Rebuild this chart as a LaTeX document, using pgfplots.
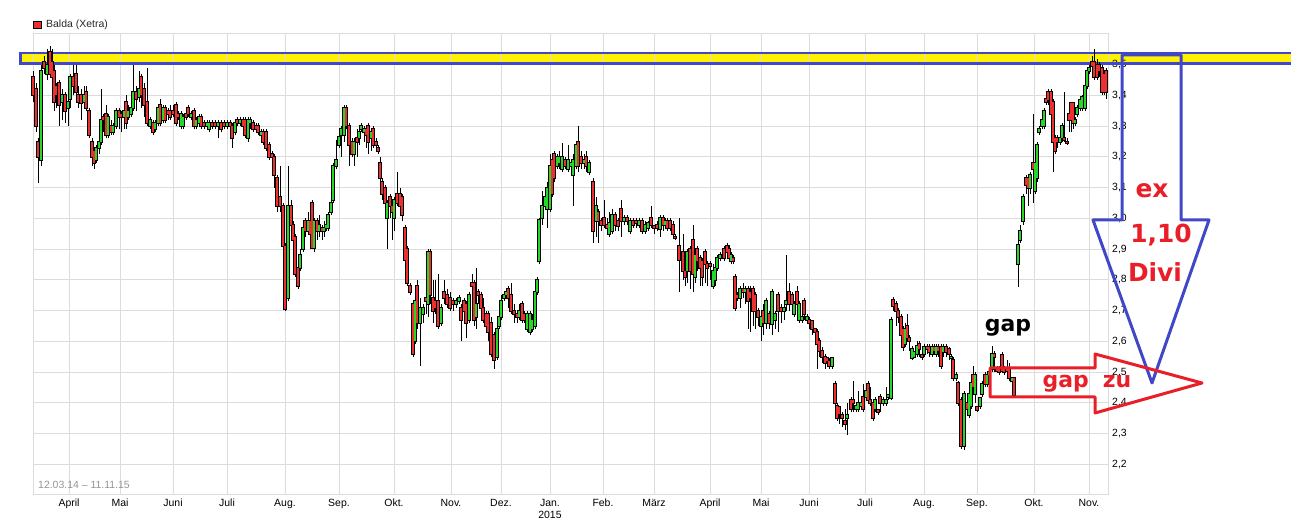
\documentclass[border=0pt]{standalone}
\usepackage{pgfplots}
\pgfplotsset{compat=1.18}
\usepackage{pgfplotstable}
\usepackage{fontspec}
\setmainfont{Liberation Sans}
\newfontfamily\comicfont{DejaVu Sans}
\definecolor{candlered}{RGB}{236,48,48}
\definecolor{candlegreen}{RGB}{40,214,40}
\definecolor{gridgray}{RGB}{220,220,220}
\definecolor{bandyellow}{RGB}{255,242,0}
\definecolor{bandblue}{RGB}{64,72,200}
\definecolor{notered}{RGB}{234,30,40}

\pgfplotstableread{
x o h l c
33 3.46 3.48 3.38 3.40
36 3.42 3.44 3.28 3.30
38 3.25 3.26 3.115 3.20
41 3.19 3.50 3.17 3.48
44 3.51 3.53 3.47 3.49
47 3.47 3.55 3.45 3.50
50 3.54 3.56 3.46 3.47
52 3.51 3.55 3.44 3.46
54 3.48 3.50 3.35 3.38
56 3.43 3.44 3.36 3.40
59 3.44 3.45 3.30 3.37
62 3.38 3.42 3.32 3.40
65 3.40 3.41 3.31 3.35
68 3.36 3.40 3.30 3.38
70 3.39 3.47 3.36 3.46
73 3.46 3.50 3.40 3.43
76 3.47 3.50 3.38 3.41
78 3.40 3.43 3.36 3.38
81 3.40 3.42 3.32 3.375
84 3.38 3.43 3.37 3.40
86 3.41 3.43 3.35 3.36
89 3.35 3.36 3.26 3.27
92 3.25 3.26 3.17 3.20
94 3.22 3.23 3.16 3.18
96 3.19 3.24 3.18 3.23
99 3.23 3.27 3.21 3.25
101 3.25 3.42 3.24 3.32
103 3.33 3.34 3.28 3.32
106 3.34 3.37 3.26 3.27
108 3.27 3.34 3.26 3.33
111 3.30 3.32 3.27 3.28
113 3.28 3.31 3.27 3.30
116 3.30 3.36 3.29 3.35
119 3.35 3.36 3.29 3.33
121 3.34 3.35 3.28 3.33
124 3.33 3.36 3.29 3.35
126 3.38 3.40 3.29 3.31
128 3.33 3.37 3.32 3.35
131 3.34 3.38 3.33 3.36
133 3.36 3.50 3.35 3.41
136 3.41 3.43 3.35 3.39
139 3.395 3.48 3.38 3.42
141 3.46 3.47 3.36 3.40
144 3.42 3.44 3.33 3.37
147 3.38 3.49 3.30 3.31
150 3.30 3.33 3.29 3.32
153 3.31 3.32 3.27 3.28
155 3.29 3.32 3.28 3.31
158 3.31 3.37 3.30 3.36
160 3.37 3.39 3.30 3.31
163 3.32 3.37 3.31 3.36
165 3.36 3.37 3.31 3.32
168 3.35 3.36 3.32 3.34
170 3.35 3.37 3.32 3.33
173 3.35 3.37 3.33 3.34
176 3.37 3.38 3.30 3.31
178 3.34 3.35 3.32 3.33
181 3.30 3.35 3.29 3.34
183 3.30 3.34 3.29 3.33
186 3.34 3.35 3.32 3.33
188 3.36 3.37 3.33 3.34
191 3.33 3.35 3.32 3.34
194 3.35 3.36 3.29 3.30
196 3.30 3.33 3.29 3.32
199 3.31 3.34 3.30 3.33
201 3.33 3.34 3.29 3.30
204 3.31 3.32 3.29 3.30
207 3.30 3.32 3.29 3.31
209 3.29 3.32 3.28 3.31
212 3.31 3.32 3.29 3.30
215 3.31 3.32 3.29 3.30
218 3.30 3.32 3.26 3.31
221 3.31 3.32 3.28 3.29
224 3.31 3.32 3.29 3.30
227 3.30 3.32 3.29 3.31
230 3.31 3.32 3.29 3.30
232 3.30 3.31 3.23 3.26
235 3.28 3.32 3.27 3.31
237 3.32 3.33 3.30 3.31
240 3.31 3.33 3.30 3.32
243 3.32 3.33 3.29 3.30
245 3.32 3.33 3.26 3.27
248 3.26 3.33 3.25 3.32
250 3.31 3.33 3.29 3.32
253 3.31 3.32 3.28 3.29
256 3.30 3.31 3.28 3.29
258 3.30 3.31 3.27 3.28
261 3.27 3.29 3.26 3.28
263 3.28 3.29 3.24 3.25
266 3.28 3.29 3.22 3.23
269 3.24 3.25 3.19 3.20
272 3.21 3.22 3.19 3.20
274 3.20 3.21 3.10 3.14
277 3.13 3.14 3.02 3.04
280 3.07 3.17 3.02 3.04
283 3.04 3.05 2.90 2.91
285 2.91 2.92 2.70 2.705
288 2.74 3.17 2.73 3.04
291 3.04 3.06 2.96 2.98
293 2.98 2.99 2.90 2.93
295 2.94 2.95 2.81 2.82
298 2.84 2.85 2.77 2.78
300 2.84 2.90 2.83 2.88
303 2.90 2.99 2.89 2.97
305 2.99 3.00 2.94 2.96
308 2.96 3.02 2.95 2.99
310 2.99 3.04 2.92 2.95
312 3.05 3.06 2.90 2.905
314 2.905 3.00 2.89 2.99
317 2.99 3.00 2.93 2.96
319 2.96 3.01 2.94 2.98
322 2.97 2.98 2.93 2.96
324 2.96 2.99 2.94 2.97
326 2.97 2.99 2.96 2.98
328 2.97 3.02 2.96 3.01
331 3.02 3.06 3.01 3.05
333 3.06 3.18 3.05 3.17
336 3.17 3.255 3.16 3.19
339 3.24 3.27 3.23 3.265
341 3.27 3.30 3.20 3.29
344 3.27 3.37 3.25 3.36
346 3.36 3.37 3.29 3.30
349 3.30 3.31 3.17 3.24
352 3.25 3.26 3.20 3.21
354 3.21 3.26 3.17 3.25
357 3.26 3.29 3.20 3.25
359 3.26 3.29 3.24 3.28
361 3.29 3.31 3.28 3.30
364 3.28 3.30 3.25 3.29
366 3.29 3.30 3.23 3.27
368 3.30 3.31 3.21 3.25
371 3.26 3.29 3.22 3.28
373 3.29 3.30 3.23 3.24
376 3.25 3.26 3.22 3.24
378 3.23 3.24 3.21 3.22
380 3.18 3.20 3.12 3.13
382 3.12 3.13 3.06 3.08
385 3.10 3.11 3.02 3.05
387 3.00 3.06 2.90 3.05
390 3.07 3.08 3.00 3.04
392 3.04 3.05 2.93 3.02
394 3.00 3.07 2.96 3.06
397 3.08 3.15 3.04 3.05
400 3.08 3.10 3.02 3.04
402 3.07 3.08 2.99 3.01
405 2.97 2.98 2.86 2.865
407 2.90 2.91 2.78 2.79
410 2.78 2.79 2.75 2.76
413 2.72 2.73 2.55 2.56
415 2.60 2.78 2.59 2.73
417 2.78 2.80 2.64 2.66
420 2.66 2.74 2.52 2.71
423 2.69 2.72 2.66 2.71
426 2.74 2.78 2.69 2.73
428 2.72 2.90 2.68 2.89
430 2.89 2.90 2.72 2.75
433 2.74 2.80 2.66 2.70
435 2.73 2.80 2.69 2.71
438 2.73 2.82 2.64 2.65
441 2.66 2.72 2.65 2.71
444 2.76 2.80 2.72 2.74
447 2.75 2.77 2.71 2.72
450 2.74 2.76 2.70 2.71
453 2.73 2.74 2.70 2.72
456 2.72 2.74 2.71 2.73
459 2.73 2.75 2.72 2.74
461 2.71 2.72 2.60 2.67
464 2.73 2.74 2.66 2.70
466 2.72 2.73 2.61 2.66
469 2.67 2.76 2.66 2.75
472 2.79 2.82 2.75 2.78
474 2.79 2.80 2.65 2.67
476 2.68 2.84 2.64 2.72
478 2.76 2.77 2.72 2.75
481 2.75 2.76 2.69 2.71
483 2.71 2.74 2.66 2.67
486 2.69 2.70 2.64 2.65
488 2.69 2.70 2.60 2.63
491 2.66 2.68 2.55 2.56
494 2.62 2.63 2.51 2.54
497 2.55 2.65 2.54 2.64
499 2.65 2.69 2.64 2.68
501 2.68 2.75 2.67 2.73
504 2.74 2.76 2.73 2.75
506 2.75 2.77 2.74 2.76
508 2.77 2.78 2.71 2.74
511 2.75 2.79 2.69 2.70
514 2.70 2.72 2.66 2.69
517 2.69 2.70 2.66 2.68
519 2.68 2.72 2.67 2.70
522 2.72 2.73 2.66 2.67
524 2.69 2.70 2.66 2.67
527 2.64 2.70 2.63 2.69
530 2.63 2.70 2.62 2.69
532 2.64 2.69 2.63 2.67
535 2.65 2.77 2.64 2.76
537 2.76 2.81 2.75 2.80
539 2.86 3.00 2.85 2.995
542 3.00 3.09 2.98 3.04
545 3.04 3.09 3.03 3.07
547 3.03 3.12 2.97 3.10
550 3.03 3.21 3.02 3.17
552 3.19 3.21 3.07 3.08
554 3.21 3.22 3.12 3.13
557 3.17 3.21 3.16 3.20
559 3.18 3.22 3.16 3.20
562 3.16 3.245 3.15 3.20
565 3.19 3.20 3.16 3.17
568 3.16 3.24 3.15 3.19
571 3.17 3.19 3.16 3.18
573 3.14 3.21 3.04 3.19
576 3.17 3.25 3.16 3.24
578 3.25 3.30 3.15 3.17
581 3.20 3.22 3.16 3.18
584 3.18 3.21 3.16 3.19
586 3.20 3.22 3.15 3.17
589 3.15 3.19 3.14 3.18
593 3.12 3.13 2.92 2.96
596 2.99 3.07 2.94 3.04
598 3.02 3.03 2.92 2.99
601 2.99 3.00 2.96 2.98
604 3.00 3.06 2.97 2.98
607 2.98 3.00 2.95 2.97
609 2.95 3.02 2.94 2.985
612 2.96 3.03 2.95 3.01
615 3.01 3.02 2.96 2.98
618 2.99 3.00 2.96 2.975
621 3.03 3.06 2.94 2.99
624 2.99 3.01 2.98 3.00
627 3.00 3.01 2.98 2.99
630 2.96 3.00 2.95 2.99
633 2.99 3.00 2.97 2.98
636 2.99 3.00 2.97 2.985
639 2.98 3.00 2.97 2.99
642 2.99 3.00 2.95 2.96
645 2.96 2.99 2.95 2.98
648 2.97 2.99 2.96 2.985
651 3.00 3.04 2.97 2.98
654 2.975 2.98 2.95 2.97
657 2.98 2.99 2.96 2.97
660 2.965 3.01 2.94 3.00
663 3.00 3.01 2.96 2.98
665 2.98 3.00 2.97 2.99
667 2.99 3.00 2.96 2.97
670 2.99 3.00 2.96 2.97
673 2.98 2.99 2.94 2.95
675 2.94 2.95 2.93 2.935
679 2.91 3.00 2.76 2.865
683 2.89 2.95 2.80 2.83
685 2.83 2.84 2.78 2.81
687 2.83 2.90 2.79 2.89
690 2.90 2.91 2.77 2.83
693 2.93 2.98 2.76 2.82
695 2.81 2.89 2.79 2.88
697 2.90 2.91 2.83 2.86
700 2.87 2.88 2.78 2.84
702 2.86 2.87 2.78 2.81
705 2.89 2.90 2.79 2.85
707 2.85 2.86 2.78 2.84
710 2.85 2.86 2.80 2.845
713 2.78 2.85 2.77 2.83
715 2.80 2.85 2.78 2.84
717 2.84 2.88 2.83 2.87
720 2.87 2.89 2.86 2.88
724 2.90 2.91 2.86 2.87
727 2.91 2.92 2.87 2.89
729 2.90 2.915 2.86 2.87
731 2.86 2.89 2.85 2.88
733 2.87 2.88 2.85 2.86
735 2.81 2.82 2.70 2.71
737 2.75 2.76 2.73 2.74
740 2.74 2.78 2.71 2.77
743 2.77 2.79 2.74 2.76
745 2.76 2.78 2.72 2.77
748 2.77 2.78 2.64 2.73
750 2.76 2.78 2.63 2.74
753 2.77 2.78 2.65 2.70
755 2.75 2.76 2.64 2.70
758 2.70 2.71 2.65 2.68
761 2.65 2.69 2.60 2.68
763 2.70 2.72 2.62 2.66
766 2.66 2.74 2.64 2.73
769 2.69 2.70 2.64 2.66
772 2.655 2.77 2.62 2.76
775 2.67 2.70 2.64 2.69
778 2.75 2.76 2.63 2.70
781 2.71 2.72 2.66 2.70
784 2.70 2.72 2.67 2.71
786 2.72 2.88 2.70 2.73
789 2.76 2.79 2.70 2.72
792 2.75 2.76 2.71 2.72
794 2.69 2.73 2.68 2.72
797 2.76 2.78 2.69 2.72
799 2.67 2.73 2.66 2.72
802 2.67 2.69 2.66 2.68
804 2.73 2.74 2.67 2.69
807 2.67 2.69 2.66 2.68
809 2.67 2.68 2.64 2.66
812 2.665 2.67 2.62 2.64
815 2.64 2.645 2.60 2.63
817 2.63 2.64 2.51 2.59
819 2.60 2.61 2.55 2.57
822 2.57 2.58 2.53 2.55
825 2.55 2.56 2.51 2.53
827 2.545 2.55 2.515 2.535
829 2.535 2.545 2.51 2.52
832 2.52 2.55 2.51 2.545
835 2.46 2.47 2.39 2.40
837 2.39 2.40 2.34 2.35
839 2.385 2.39 2.33 2.365
842 2.36 2.37 2.32 2.35
845 2.34 2.38 2.31 2.33
847 2.35 2.40 2.295 2.36
851 2.41 2.42 2.37 2.38
853 2.41 2.47 2.37 2.40
856 2.38 2.40 2.37 2.39
858 2.38 2.44 2.37 2.40
861 2.39 2.41 2.38 2.40
863 2.42 2.46 2.37 2.38
866 2.42 2.45 2.41 2.44
868 2.46 2.47 2.40 2.41
870 2.41 2.45 2.39 2.40
873 2.40 2.41 2.34 2.35
875 2.38 2.42 2.37 2.41
878 2.375 2.38 2.36 2.37
880 2.42 2.43 2.37 2.40
883 2.40 2.42 2.39 2.41
886 2.40 2.45 2.39 2.41
888 2.42 2.43 2.41 2.425
891 2.415 2.68 2.41 2.67
893 2.735 2.745 2.70 2.715
896 2.72 2.73 2.65 2.70
898 2.70 2.71 2.66 2.68
901 2.68 2.69 2.61 2.62
903 2.64 2.65 2.57 2.58
905 2.59 2.66 2.58 2.64
907 2.65 2.69 2.60 2.61
909 2.61 2.62 2.57 2.60
912 2.545 2.585 2.54 2.575
914 2.55 2.57 2.545 2.565
917 2.56 2.60 2.55 2.585
919 2.59 2.60 2.55 2.575
922 2.555 2.56 2.54 2.55
924 2.56 2.59 2.55 2.58
927 2.58 2.59 2.56 2.575
929 2.58 2.59 2.55 2.565
932 2.56 2.59 2.55 2.58
934 2.58 2.59 2.56 2.57
936 2.56 2.59 2.55 2.58
938 2.58 2.59 2.55 2.57
941 2.58 2.59 2.51 2.52
943 2.565 2.59 2.55 2.58
946 2.58 2.59 2.55 2.565
949 2.575 2.58 2.54 2.56
951 2.545 2.56 2.54 2.55
953 2.54 2.55 2.47 2.48
956 2.48 2.50 2.47 2.49
958 2.465 2.47 2.39 2.40
961 2.41 2.42 2.25 2.26
964 2.26 2.44 2.245 2.43
967 2.40 2.41 2.36 2.38
969 2.36 2.44 2.35 2.43
971 2.39 2.47 2.38 2.465
973 2.49 2.52 2.44 2.45
975 2.43 2.50 2.40 2.49
977 2.385 2.39 2.37 2.375
980 2.39 2.42 2.38 2.415
982 2.43 2.47 2.42 2.46
985 2.49 2.50 2.45 2.46
987 2.46 2.50 2.45 2.49
989 2.49 2.51 2.49 2.50
992 2.51 2.585 2.50 2.56
994 2.56 2.57 2.50 2.55
997 2.51 2.52 2.50 2.505
999 2.51 2.52 2.49 2.50
1002 2.555 2.565 2.50 2.505
1004 2.51 2.52 2.49 2.50
1007 2.51 2.54 2.49 2.505
1009 2.51 2.53 2.47 2.48
1012 2.47 2.485 2.46 2.48
1014 2.48 2.485 2.42 2.425
1018 2.85 2.93 2.777 2.915
1020 2.93 2.98 2.92 2.96
1023 2.99 3.08 2.98 3.07
1026 3.13 3.14 3.08 3.11
1028 3.13 3.14 3.04 3.10
1030 3.10 3.15 3.08 3.14
1033 3.18 3.34 3.05 3.16
1035 3.09 3.19 3.08 3.18
1037 3.13 3.25 3.12 3.24
1039 3.28 3.30 3.27 3.29
1042 3.30 3.33 3.29 3.32
1044 3.30 3.36 3.29 3.35
1046 3.39 3.395 3.37 3.38
1048 3.41 3.42 3.37 3.385
1051 3.41 3.42 3.33 3.34
1053 3.38 3.39 3.15 3.25
1055 3.26 3.27 3.21 3.22
1057 3.26 3.27 3.23 3.25
1060 3.25 3.27 3.24 3.26
1062 3.26 3.31 3.25 3.30
1064 3.26 3.41 3.25 3.255
1067 3.25 3.26 3.24 3.245
1069 3.34 3.37 3.28 3.32
1071 3.375 3.38 3.28 3.32
1073 3.375 3.38 3.29 3.31
1075 3.31 3.33 3.30 3.32
1077 3.34 3.37 3.33 3.36
1080 3.36 3.39 3.35 3.385
1082 3.36 3.40 3.35 3.395
1085 3.36 3.44 3.35 3.43
1087 3.43 3.49 3.42 3.48
1089 3.48 3.50 3.47 3.49
1092 3.51 3.53 3.47 3.495
1094 3.51 3.55 3.45 3.46
1097 3.50 3.52 3.45 3.46
1099 3.50 3.51 3.46 3.48
1102 3.49 3.50 3.40 3.41
1104 3.47 3.48 3.40 3.41
1106 3.48 3.49 3.39 3.41
}\candles

\begin{document}
\begin{tikzpicture}
\begin{axis}[
  set layers,
  at={(33bp,35bp)}, anchor=south west,
  scale only axis, width=1075bp, height=461bp,
  xmin=33, xmax=1108, ymin=2.1, ymax=3.6,
  clip=false,
  axis line style={draw=gridgray, line width=1bp},
  grid=major, grid style={draw=gridgray, line width=1bp},
  major tick length=0pt,
  xtick={69,120,173,227,285,339,394,451,501,550,603,654,710,761,809,865,924,977,1034,1089},
  xticklabels={April,Mai,Juni,Juli,Aug.,Sep.,Okt.,Nov.,Dez.,{Jan.\\2015},Feb.,März,April,Mai,Juni,Juli,Aug.,Sep.,Okt.,Nov.},
  ytick={2.2,2.3,2.4,2.5,2.6,2.7,2.8,2.9,3.0,3.1,3.2,3.3,3.4,3.5},
  yticklabels={{2,2},{2,3},{2,4},{2,5},{2,6},{2,7},{2,8},{2,9},{3,0},{3,1},{3,2},{3,3},{3,4},{3,5}},
  yticklabel pos=right,
  tick label style={font=\fontsize{10.5}{12.5}\selectfont, inner sep=0pt, text=black},
  xticklabel style={anchor=north, align=center},
  yticklabel style={anchor=west},
  xticklabel shift=4bp,
  yticklabel shift=4bp,
]
\begin{pgfonlayer}{axis background}
\fill[bandyellow] (axis cs:20.5,3.538) rectangle (axis cs:1300,3.503);
\end{pgfonlayer}
\draw[bandblue, line width=2.7bp] (axis cs:20.5,3.538) rectangle (axis cs:1300,3.503);

% wicks
\addplot[black, line width=1bp, quiver={u=0, v=\thisrow{h}-\thisrow{l}}]
  table[x=x, y=l] {\candles};
% body outlines
\addplot[black, line width=4bp, quiver={u=0, v=abs(\thisrow{c}-\thisrow{o})+0.0065}]
  table[x=x, y expr={min(\thisrow{o},\thisrow{c})-0.00325}] {\candles};
% rising bodies
\addplot[candlegreen, line width=2bp, quiver={u=0, v=abs(\thisrow{c}-\thisrow{o})},
  restrict expr to domain={\thisrow{c}-\thisrow{o}}{0:10}]
  table[x=x, y expr={min(\thisrow{o},\thisrow{c})}] {\candles};
% falling bodies
\addplot[candlered, line width=2bp, quiver={u=0, v=abs(\thisrow{c}-\thisrow{o})},
  restrict expr to domain={\thisrow{o}-\thisrow{c}}{0.000001:10}]
  table[x=x, y expr={min(\thisrow{o},\thisrow{c})}] {\candles};
\end{axis}

% legend and date range
\filldraw[fill=candlered, draw=black, line width=0.8bp] (33.5bp,501.5bp) rectangle (41.5bp,509bp);
\node[anchor=west, inner sep=0pt, font=\fontsize{10.5}{12.5}\selectfont, text=black!85] at (46bp,505bp) {Balda (Xetra)};
\node[anchor=west, inner sep=0pt, font=\fontsize{10.5}{12.5}\selectfont, text=black!42] at (38bp,45bp) {12.03.14 \textendash{} 11.11.15};

% annotations
\draw[bandblue, line width=3bp, line join=round] (1122bp,475bp) -- (1181bp,475bp) -- (1181bp,310bp) -- (1209bp,310bp) -- (1152bp,147bp) -- (1093bp,310bp) -- (1122bp,310bp) -- cycle;
\draw[notered, line width=3bp, line join=round] (990bp,162bp) -- (1095bp,162bp) -- (1095bp,176bp) -- (1202bp,147bp) -- (1095bp,117bp) -- (1095bp,133bp) -- (990bp,133bp) -- cycle;

\node[anchor=base, inner sep=0pt, text=black, font=\comicfont\bfseries\fontsize{22}{26}\selectfont] at (1008bp,198bp) {gap};
\node[anchor=base, inner sep=0pt, text=notered, font=\comicfont\bfseries\fontsize{22}{26}\selectfont] at (1087bp,142bp) {gap\hspace{14bp}zu};
\node[anchor=base, inner sep=0pt, text=notered, font=\comicfont\bfseries\fontsize{25}{30}\selectfont] at (1152bp,332bp) {ex};
\node[anchor=base, inner sep=0pt, text=notered, font=\comicfont\bfseries\fontsize{25}{30}\selectfont] at (1161bp,287bp) {1,10};
\node[anchor=base, inner sep=0pt, text=notered, font=\comicfont\bfseries\fontsize{25}{30}\selectfont] at (1155bp,248bp) {Divi};

\pgfresetboundingbox
\useasboundingbox (0,0) rectangle (1291bp,530bp);
\end{tikzpicture}
\end{document}
